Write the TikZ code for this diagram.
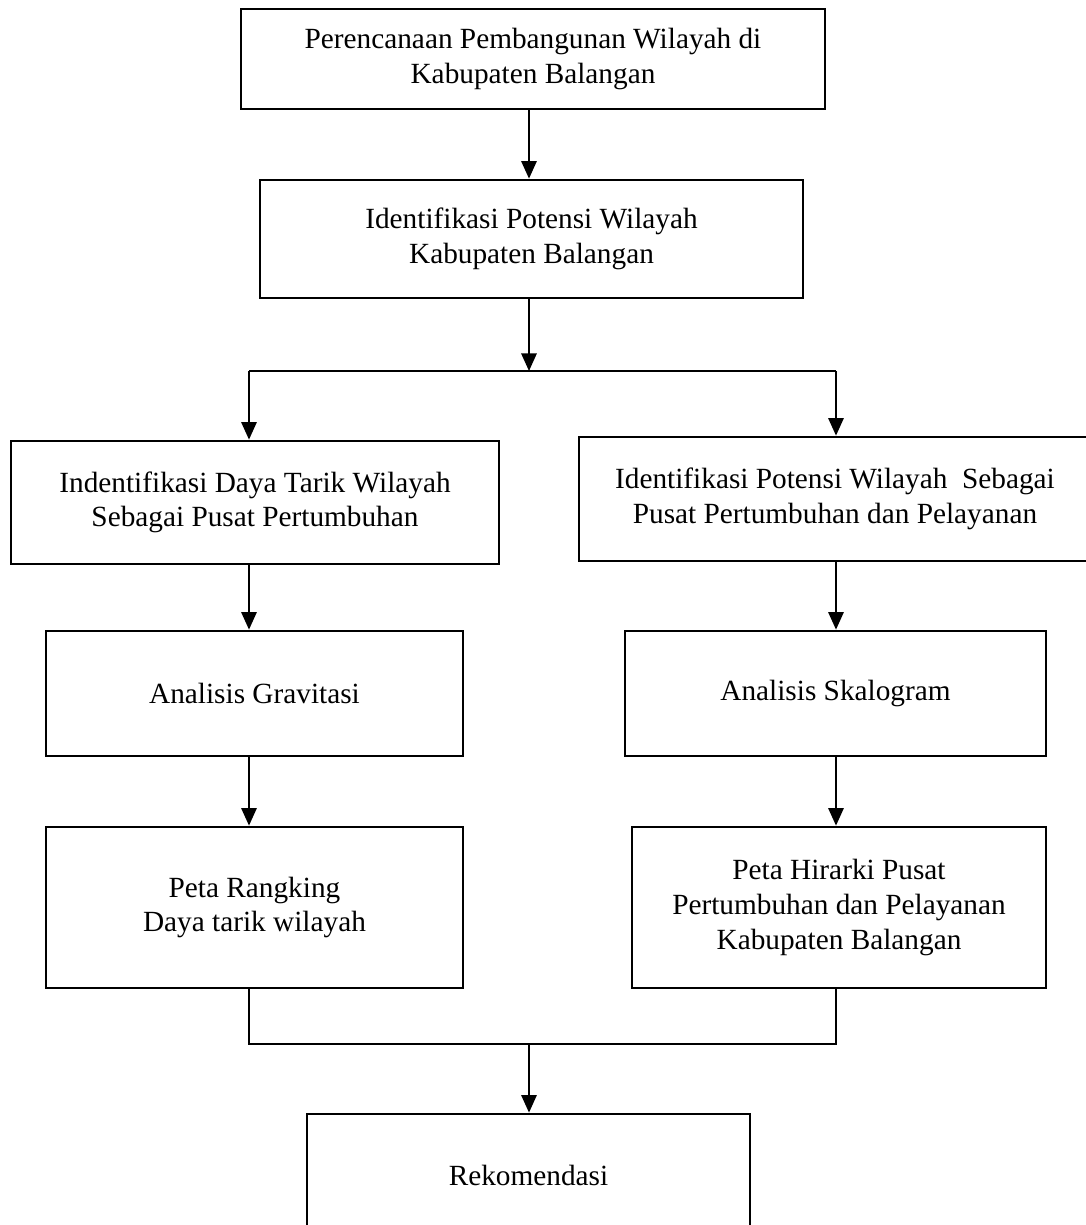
\documentclass[tikz,border=0pt]{standalone}
\usepackage{fontspec}
\setmainfont{Liberation Serif}
\usepackage{tikz}
\usetikzlibrary{arrows.meta,positioning}

\begin{document}
\begin{tikzpicture}[x=0.03cm,y=-0.03cm,line cap=butt,line join=miter,
  kotak/.style={draw,line width=2.3pt,align=center,inner sep=0pt,
    font=\fontsize{25}{29.5}\selectfont},
  panah/.style={line width=1.9pt,-{Triangle[length=15pt,width=13pt]}},
  garis/.style={line width=1.9pt}]
  \useasboundingbox (0,0) rectangle (1086,1225);
  % kotak-kotak, posisi dalam piksel gambar asli
  \node[kotak,minimum width=17.52cm,minimum height=3.00cm] (b1) at (533,59)
    {Perencanaan Pembangunan Wilayah di\\Kabupaten Balangan};
  \node[kotak,minimum width=16.29cm,minimum height=3.54cm] (b2) at (531.5,239)
    {Identifikasi Potensi Wilayah\\Kabupaten Balangan};
  \node[kotak,minimum width=14.64cm,minimum height=3.69cm] (b3) at (255,502.5)
    {Indentifikasi Daya Tarik Wilayah\\Sebagai Pusat Pertumbuhan};
  \node[kotak,minimum width=15.36cm,minimum height=3.72cm] (b4) at (835,499)
    {Identifikasi Potensi Wilayah~ Sebagai\\Pusat Pertumbuhan dan Pelayanan};
  \node[kotak,minimum width=12.51cm,minimum height=3.75cm] (b5) at (254.5,693.5)
    {Analisis Gravitasi};
  \node[kotak,minimum width=12.63cm,minimum height=3.75cm] (b6) at (835.5,693.5)
    {Analisis Skalogram};
  \node[kotak,minimum width=12.51cm,minimum height=4.83cm] (b7) at (254.5,907.5)
    {Peta Rangking\\Daya tarik wilayah};
  \node[kotak,minimum width=12.42cm,minimum height=4.83cm] (b8) at (839,907.5)
    {Peta Hirarki Pusat\\Pertumbuhan dan Pelayanan\\Kabupaten Balangan};
  \node[kotak,minimum width=13.29cm,minimum height=3.66cm] (b9) at (528.5,1175)
    {Rekomendasi};
  % percabangan dan penggabungan
  \coordinate (pisah) at (529,371);
  \coordinate (kiri) at (249,371);
  \coordinate (kanan) at (836,371);
  \coordinate (gabung) at (529,1044);
  \draw[panah] (b1.south -| pisah) -- (b2.north -| pisah);
  \draw[panah] (b2.south -| pisah) -- (pisah);
  \draw[garis] (kiri) -- (kanan);
  \draw[panah] (kiri) -- (kiri |- b3.north);
  \draw[panah] (kanan) -- (kanan |- b4.north);
  \draw[panah] (b3.south -| kiri) -- (b5.north -| kiri);
  \draw[panah] (b5.south -| kiri) -- (b7.north -| kiri);
  \draw[panah] (b4.south -| kanan) -- (b6.north -| kanan);
  \draw[panah] (b6.south -| kanan) -- (b8.north -| kanan);
  \draw[garis] (b7.south -| kiri) |- (gabung) -| (b8.south -| kanan);
  \draw[panah] (gabung) -- (b9.north -| gabung);
\end{tikzpicture}
\end{document}
